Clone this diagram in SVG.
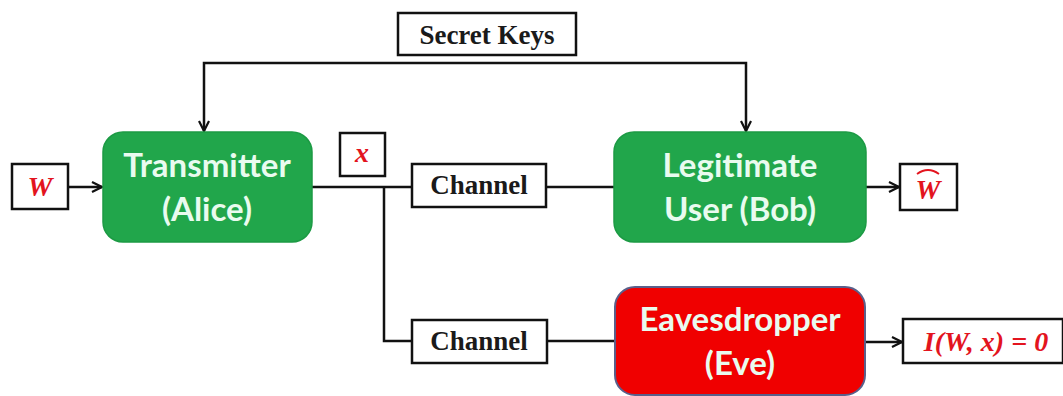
<svg xmlns="http://www.w3.org/2000/svg" width="1063" height="396" viewBox="0 0 1063 396">
  <style>
    .box { fill: #ffffff; stroke: #111111; stroke-width: 2.5; }
    .lbl { font-family: "Liberation Serif", serif; font-weight: bold; font-size: 27px; fill: #1a1a1a; text-anchor: middle; }
    .math { font-family: "Liberation Serif", serif; font-weight: bold; font-style: italic; font-size: 28px; fill: #e3141e; text-anchor: middle; }
    .node-green { fill: #21a64b; stroke: #1c9a44; stroke-width: 1.5; }
    .node-red { fill: #f00000; stroke: #5a5f8a; stroke-width: 2; }
    .ntxt { font-family: "Lato", "Open Sans", sans-serif; font-weight: bold; font-size: 33px; fill: #e9fbef; text-anchor: middle; }
    .wire { fill: none; stroke: #111111; stroke-width: 2.5; }
  </style>
  <defs>
    <marker id="arrow" viewBox="0 0 12 12" refX="11" refY="6" markerWidth="12" markerHeight="12" markerUnits="userSpaceOnUse" orient="auto">
      <path d="M1,1 L11,6 L1,11" fill="none" stroke="#111111" stroke-width="2.2"/>
    </marker>
  </defs>

  <rect width="1063" height="396" fill="#ffffff"/>

  <!-- connectors -->
  <g id="connectors">
    <polyline class="wire" points="475,63 204,63 204,131" marker-end="url(#arrow)"/>
    <polyline class="wire" points="475,63 746,63 746,131" marker-end="url(#arrow)"/>
    <line class="wire" x1="69" y1="187" x2="102" y2="187" marker-end="url(#arrow)"/>
    <line class="wire" x1="312" y1="187" x2="412" y2="187"/>
    <line class="wire" x1="546" y1="187" x2="614" y2="187"/>
    <line class="wire" x1="866" y1="187" x2="899" y2="187" marker-end="url(#arrow)"/>
    <polyline class="wire" points="384,187 384,341 412,341"/>
    <line class="wire" x1="547" y1="341" x2="615" y2="341"/>
    <line class="wire" x1="865" y1="342" x2="902" y2="342" marker-end="url(#arrow)"/>
  </g>

  <g id="secret-keys">
    <rect class="box" x="398" y="13" width="178" height="42"/>
    <text class="lbl" x="487" y="44">Secret Keys</text>
  </g>

  <g id="input-w">
    <rect class="box" x="12" y="164" width="56" height="45"/>
    <text class="math" x="40" y="196">W</text>
  </g>

  <g id="transmitter">
    <rect class="node-green" x="103" y="132" width="209" height="110" rx="20" ry="20"/>
    <text class="ntxt" x="207" y="177">Transmitter</text>
    <text class="ntxt" x="207" y="221">(Alice)</text>
  </g>

  <g id="signal-x">
    <rect class="box" x="340" y="133" width="45" height="43"/>
    <text class="math" x="362" y="162">x</text>
  </g>

  <g id="channel-bob">
    <rect class="box" x="412" y="164" width="134" height="43"/>
    <text class="lbl" x="479" y="194">Channel</text>
  </g>

  <g id="legitimate-user">
    <rect class="node-green" x="614" y="132" width="252" height="110" rx="20" ry="20"/>
    <text class="ntxt" x="740" y="177">Legitimate</text>
    <text class="ntxt" x="740" y="221">User (Bob)</text>
  </g>

  <g id="output-w-hat">
    <rect class="box" x="900" y="164" width="57" height="46"/>
    <text class="math" x="928" y="199">W</text>
    <path d="M917,174 Q928,166 939,174" fill="none" stroke="#e3141e" stroke-width="1.8"/>
  </g>

  <g id="channel-eve">
    <rect class="box" x="412" y="320" width="135" height="43"/>
    <text class="lbl" x="479" y="350">Channel</text>
  </g>

  <g id="eavesdropper">
    <rect class="node-red" x="615" y="287" width="250" height="108" rx="20" ry="20"/>
    <text class="ntxt" x="740" y="331">Eavesdropper</text>
    <text class="ntxt" x="740" y="375">(Eve)</text>
  </g>

  <g id="leakage">
    <rect class="box" x="903" y="319" width="160" height="44"/>
    <text class="math" x="986" y="351">I(W, x) = 0</text>
  </g>
</svg>
